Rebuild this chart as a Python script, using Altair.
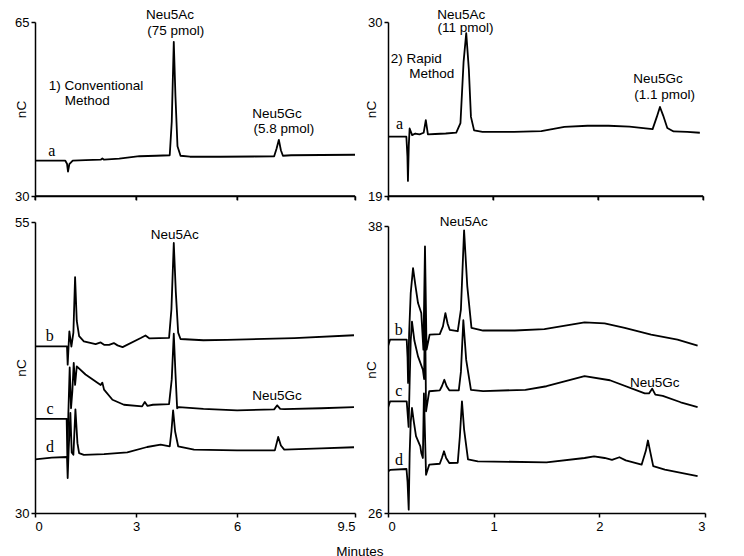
import altair as alt
import pandas as pd

# ---------------- data ----------------
# Panel 1: conventional method, trace a  (minutes, nC)
a1_t = [0, 0.9, 0.95, 0.98, 1.02, 1.12, 1.5, 1.95, 2.0, 2.05, 2.5, 3.1, 3.6, 4.0, 4.06, 4.12, 4.17, 4.23, 4.32, 4.6, 5.5, 6.5, 7.1, 7.17, 7.24, 7.3, 7.36, 7.6, 8.5, 9.5]
a1_v = [37.1, 37.1, 36.5, 34.9, 36.4, 37.1, 37.2, 37.3, 37.55, 37.3, 37.5, 38.0, 38.1, 38.2, 45.0, 61.0, 50.0, 40.0, 38.1, 37.9, 37.9, 37.95, 38.0, 39.5, 41.3, 39.2, 38.1, 38.2, 38.25, 38.3]

# Panel 2: rapid method, trace a
a2_t = [0, 0.175, 0.185, 0.19, 0.198, 0.206, 0.23, 0.26, 0.3, 0.34, 0.36, 0.38, 0.45, 0.55, 0.65, 0.69, 0.72, 0.745, 0.77, 0.79, 0.82, 0.9, 1.2, 1.46, 1.68, 1.9, 2.1, 2.3, 2.52, 2.56, 2.59, 2.62, 2.66, 2.72, 2.85, 2.97]
a2_v = [22.75, 22.75, 21.5, 19.95, 22.2, 23.27, 22.85, 22.95, 22.9, 23.0, 23.8, 22.9, 22.92, 22.95, 23.0, 23.6, 27.5, 29.3, 27.0, 24.0, 23.15, 23.06, 23.06, 23.1, 23.37, 23.44, 23.44, 23.38, 23.23, 24.0, 24.63, 24.1, 23.3, 23.08, 23.05, 23.0]

# Panel 3: conventional method, traces b, c, d
b3_t = [0, 0.95, 0.97, 1.0, 1.02, 1.08, 1.14, 1.19, 1.24, 1.31, 1.45, 1.8, 1.95, 2.05, 2.2, 2.34, 2.45, 2.6, 3.14, 3.28, 3.4, 3.98, 4.05, 4.12, 4.18, 4.25, 4.32, 5.0, 5.7, 7.7, 9.47]
b3_v = [44.32, 44.32, 42.74, 44.5, 45.6, 44.3, 45.5, 50.27, 46.5, 45.2, 44.75, 44.5, 44.65, 44.45, 44.45, 44.6, 44.4, 44.25, 45.03, 45.25, 45.0, 45.05, 47.5, 53.2, 49.0, 45.5, 44.95, 44.84, 44.87, 45.03, 45.27]

c3_t = [0, 0.94, 0.96, 0.99, 1.03, 1.07, 1.11, 1.15, 1.19, 1.24, 1.5, 1.95, 2.0, 2.05, 2.3, 2.64, 3.18, 3.26, 3.34, 3.5, 3.98, 4.06, 4.12, 4.17, 4.22, 4.27, 5.0, 6.0, 7.1, 7.19, 7.28, 7.4, 8.5, 9.47]
c3_v = [38.08, 38.08, 34.8, 38.5, 42.5, 39.0, 40.5, 42.9, 41.0, 42.6, 41.9, 41.0, 41.2, 40.6, 39.73, 39.3, 39.16, 39.54, 39.2, 39.3, 39.35, 41.5, 45.4, 42.0, 39.0, 39.1, 38.95, 38.82, 38.9, 39.25, 38.95, 38.93, 39.0, 39.1]

d3_t = [0, 0.5, 0.95, 0.97, 1.0, 1.05, 1.09, 1.14, 1.2, 1.26, 1.31, 1.45, 2.05, 2.74, 3.33, 3.73, 4.0, 4.05, 4.1, 4.16, 4.25, 4.72, 6.0, 7.12, 7.22, 7.3, 7.4, 8.5, 9.47]
d3_v = [34.6, 34.75, 34.81, 33.0, 35.5, 38.6, 35.2, 35.0, 38.9, 36.0, 35.15, 35.0, 35.05, 35.2, 35.67, 35.87, 35.73, 37.0, 38.82, 37.0, 35.73, 35.44, 35.38, 35.38, 36.53, 35.8, 35.44, 35.55, 35.65]

# Panel 4: rapid method, traces b, c, d
b4_t = [0, 0.02, 0.177, 0.185, 0.19, 0.2, 0.215, 0.237, 0.26, 0.284, 0.315, 0.335, 0.35, 0.365, 0.394, 0.49, 0.52, 0.543, 0.565, 0.584, 0.66, 0.69, 0.72, 0.75, 0.79, 0.9, 1.2, 1.48, 1.86, 2.05, 2.24, 2.49, 2.74, 2.93]
b4_v = [32.97, 33.25, 33.25, 32.5, 31.44, 33.5, 35.2, 36.24, 35.5, 34.78, 34.36, 32.83, 37.15, 32.83, 33.46, 33.48, 33.8, 34.36, 33.9, 33.66, 33.6, 34.5, 37.82, 35.5, 33.74, 33.63, 33.63, 33.69, 33.97, 33.93, 33.74, 33.46, 33.25, 33.0]

c4_t = [0, 0.02, 0.177, 0.185, 0.195, 0.205, 0.215, 0.227, 0.25, 0.284, 0.33, 0.342, 0.35, 0.36, 0.39, 0.49, 0.51, 0.533, 0.555, 0.58, 0.67, 0.69, 0.713, 0.74, 0.785, 0.9, 1.3, 1.5, 1.86, 2.1, 2.43, 2.47, 2.5, 2.53, 2.6, 2.77, 2.93]
c4_v = [30.4, 30.67, 30.67, 30.2, 29.6, 31.5, 33.2, 34.0, 33.2, 32.55, 31.99, 31.6, 35.0, 30.25, 31.09, 31.13, 31.3, 31.57, 31.3, 31.13, 31.13, 31.9, 34.06, 32.4, 31.15, 31.1, 31.15, 31.3, 31.72, 31.55, 31.0, 31.0, 31.2, 30.95, 30.9, 30.63, 30.43]

d4_t = [0, 0.02, 0.175, 0.185, 0.196, 0.205, 0.215, 0.227, 0.245, 0.265, 0.306, 0.315, 0.33, 0.34, 0.36, 0.39, 0.49, 0.51, 0.53, 0.55, 0.58, 0.66, 0.68, 0.70, 0.72, 0.757, 0.85, 1.5, 1.86, 1.95, 2.05, 2.12, 2.19, 2.25, 2.4, 2.44, 2.46, 2.48, 2.51, 2.62, 2.81, 2.93]
d4_v = [27.74, 27.8, 27.84, 27.3, 26.14, 28.5, 29.8, 30.39, 29.8, 29.21, 28.79, 28.51, 28.3, 31.0, 27.6, 28.02, 28.06, 28.3, 28.58, 28.3, 28.09, 28.1, 29.2, 30.67, 29.5, 28.24, 28.16, 28.12, 28.3, 28.37, 28.3, 28.22, 28.33, 28.2, 28.02, 28.6, 29.03, 28.6, 27.96, 27.81, 27.65, 27.54]

# Trace letters
lab1_text, lab1_t, lab1_v = ["a"], [0.5], [39.05]
lab2_text, lab2_t, lab2_v = ["a"], [0.111], [23.53]
lab3_text, lab3_t, lab3_v = ["b", "c", "d"], [0.436, 0.445, 0.445], [45.23, 38.93, 35.67]
lab4_text, lab4_t, lab4_v = ["b", "c", "d"], [0.101, 0.101, 0.104], [33.66, 31.11, 28.23]

# Text annotations (centre positions)
ann1_text = ["Neu5Ac", "(75 pmol)", "Neu5Gc", "(5.8 pmol)", "1) Conventional", "Method"]
ann1_t = [4.01, 4.18, 7.185, 7.39, 1.81, 1.55]
ann1_v = [66.4, 63.19, 46.43, 43.41, 52.13, 49.11]
ann2_text = ["Neu5Ac", "(11 pmol)", "Neu5Gc", "(1.1 pmol)", "2) Rapid", "Method"]
ann2_t = [0.698, 0.738, 2.571, 2.635, 0.27, 0.416]
ann2_v = [30.44, 29.59, 26.38, 25.39, 27.64, 26.73]
ann3_text, ann3_t, ann3_v = ["Neu5Ac", "Neu5Gc"], [4.15, 7.185], [53.91, 40.08]
ann4_text, ann4_t, ann4_v = ["Neu5Ac", "Neu5Gc"], [0.717, 2.524], [38.17, 31.44]

xticks_conv = [0, 3, 6, 9.5]
xticks_rapid = [0, 1, 2, 3]
x_title = "Minutes"

SANS = "Liberation Sans"
SERIF = "Liberation Serif"
FS = 13.5


def traces_df(items):
    frames = []
    for name, ts, vs in items:
        frames.append(pd.DataFrame({"t": ts, "v": vs, "trace": name, "i": list(range(len(ts)))}))
    return pd.concat(frames, ignore_index=True)


def txt_df(texts, ts, vs):
    return pd.DataFrame({"t": ts, "v": vs, "txt": texts})


def panel(items, xdom, ydom, xticks, w, h, xlabels, labels, anns, ytop=0, ytitle_x=-15):
    xs = alt.Scale(domain=xdom, nice=False, zero=False)
    ys = alt.Scale(domain=ydom, nice=False, zero=False, range=[h, ytop])
    xaxis_kw = dict(values=xticks, labelPadding=3, domain=True, ticks=True, labels=xlabels,
                    title=None)
    if xlabels:
        xaxis_kw.update(labelExpr="toString(datum.value)")
    xaxis = alt.Axis(**xaxis_kw)
    yaxis = alt.Axis(values=list(ydom), title="nC", titleX=ytitle_x, titleY=(h + ytop) / 2,
                     titleAngle=270, titleAlign="center", titleBaseline="middle",
                     titleFont=SANS, titleFontSize=FS, titleFontWeight="normal",
                     titleColor="black", labelPadding=2)
    enc_x = alt.X("t:Q", scale=xs, axis=xaxis)
    enc_y = alt.Y("v:Q", scale=ys, axis=yaxis)
    line = alt.Chart(traces_df(items)).mark_line(
        color="black", strokeWidth=1.8, clip=True, strokeJoin="round"
    ).encode(x=enc_x, y=enc_y, detail="trace:N", order="i:Q")
    lab = alt.Chart(txt_df(*labels)).mark_text(
        font=SERIF, fontSize=16, color="black", align="center", baseline="middle"
    ).encode(x=enc_x, y=enc_y, text="txt:N")
    ann = alt.Chart(txt_df(*anns)).mark_text(
        font=SANS, fontSize=FS, color="black", align="center", baseline="middle"
    ).encode(x=enc_x, y=enc_y, text="txt:N")
    layers = [line, lab, ann]
    if not xlabels:
        # time-axis baseline and tick marks of the upper panels
        base = pd.DataFrame({"t": [xdom[0]], "t2": [xdom[1]], "v": [ydom[0]]})
        rule = alt.Chart(base).mark_rule(color="black", strokeWidth=1.5).encode(
            x=enc_x, x2="t2:Q", y=enc_y)
        tk = pd.DataFrame({"t": xticks, "v": [ydom[0]] * len(xticks)})
        ticks = alt.Chart(tk).mark_tick(
            color="black", orient="vertical", size=4, thickness=1.5, yOffset=2
        ).encode(x=enc_x, y=enc_y)
        layers += [rule, ticks]
    return alt.layer(*layers).properties(width=w, height=h)


p1 = panel([("a", a1_t, a1_v)], [0, 9.5], [30, 65], xticks_conv, 320, 174, False,
           (lab1_text, lab1_t, lab1_v), (ann1_text, ann1_t, ann1_v), ytitle_x=-14)
p2 = panel([("a", a2_t, a2_v)], [0, 3], [19, 30], xticks_rapid, 315, 174, False,
           (lab2_text, lab2_t, lab2_v), (ann2_text, ann2_t, ann2_v), ytitle_x=-17)
p3 = panel([("b", b3_t, b3_v), ("c", c3_t, c3_v), ("d", d3_t, d3_v)], [0, 9.5], [30, 55],
           xticks_conv, 320, 291, True, (lab3_text, lab3_t, lab3_v), (ann3_text, ann3_t, ann3_v),
           ytitle_x=-14)
p4 = panel([("b", b4_t, b4_v), ("c", c4_t, c4_v), ("d", d4_t, d4_v)], [0, 3], [26, 38],
           xticks_rapid, 317, 291, True, (lab4_text, lab4_t, lab4_v), (ann4_text, ann4_t, ann4_v),
           ytop=4, ytitle_x=-17)

chart = alt.concat(p1, p2, p3, p4, columns=2, spacing={"row": 11, "column": 8}).properties(
    padding={"left": 6, "top": 0, "right": 5, "bottom": 0},
    background="white",
    title=alt.TitleParams(x_title, orient="bottom", anchor="middle", font=SANS, fontSize=FS,
                          fontWeight="normal", color="black", offset=12),
).configure_view(stroke=None).configure_axis(
    grid=False, domainColor="black", domainWidth=1.5, tickColor="black", tickWidth=1.5,
    tickSize=4, labelFont=SANS, labelFontSize=13, labelColor="black",
)

chart.save("out.html", embed_options={"renderer": "svg", "actions": False})
